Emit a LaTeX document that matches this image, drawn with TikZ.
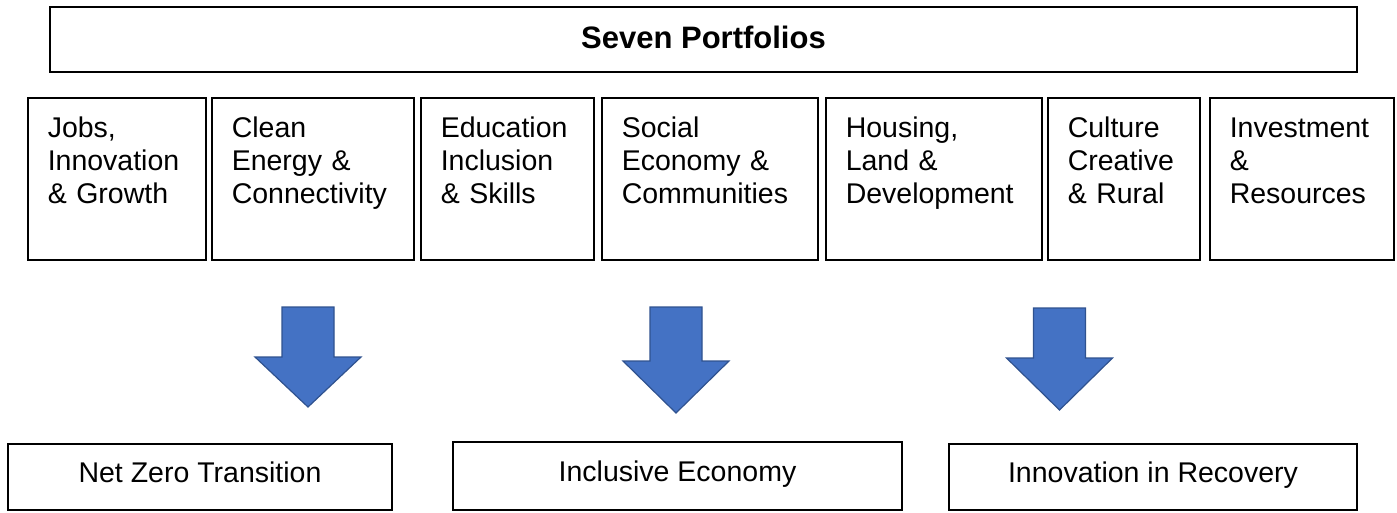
\documentclass[tikz,border=0pt]{standalone}
\usepackage{fontspec}
\setmainfont{Liberation Sans}
\usepackage{tikz}
\usetikzlibrary{positioning}

\definecolor{arrowblue}{HTML}{4472C4}
\definecolor{arrowedge}{HTML}{2F528F}

\tikzset{
    boxfont/.style={font=\fontsize{28.5}{33}\selectfont},
    titlebox/.style={draw, line width=1.5pt, font=\fontsize{31}{36}\selectfont\bfseries, text height=23pt, text depth=6pt},
    portfolio/.style={draw, line width=1.5pt, boxfont, anchor=north west, align=left,
        inner xsep=20pt, inner ysep=19pt, text height=21pt, text depth=103pt},
    goalbox/.style={draw, line width=1.5pt, boxfont, text height=21pt, text depth=11pt},
    bigarrow/.style={fill=arrowblue, draw=arrowedge, line width=1.2pt, line join=miter}
}

\begin{document}
\begin{tikzpicture}[x=1pt, y=-1pt]
        \useasboundingbox (0,0) rectangle (1397,512);

        % Nodes
        \node (title) [titlebox, minimum width=1307pt, minimum height=65pt] at (703.5,39.5) {Seven Portfolios};

        \node (jobs) [portfolio, text width=138pt] at (27,97) {Jobs,\\Innovation\\\& Growth};
        \node (energy) [portfolio, text width=162pt] at (211,97) {Clean\\Energy \&\\Connectivity};
        \node (education) [portfolio, text width=133pt] at (420,97) {Education\\Inclusion\\\& Skills};
        \node (social) [portfolio, text width=176pt] at (601,97) {Social\\Economy \&\\Communities};
        \node (housing) [portfolio, text width=176pt] at (825,97) {Housing,\\Land \&\\Development};
        \node (culture) [portfolio, text width=112pt] at (1047,97) {Culture\\Creative\\\& Rural};
        \node (investment) [portfolio, text width=144pt] at (1209,97) {Investment\\\&\\Resources};

        \node (netzero) [goalbox, minimum width=384pt, minimum height=66pt] at (200,477) {Net Zero Transition};
        \node (inclusive) [goalbox, minimum width=449pt, minimum height=68pt] at (677.5,476) {Inclusive Economy};
        \node (recovery) [goalbox, minimum width=408pt, minimum height=66pt] at (1153,477) {Innovation in Recovery};

        % Arrows
        \foreach \x/\top/\neck/\tip in {308/307/357/407, 676/307/361/413, 1059.5/308/358/410}
            \draw[bigarrow] (\x-26,\top) -- (\x+26,\top) -- (\x+26,\neck) -- (\x+53,\neck)
                -- (\x,\tip) -- (\x-53,\neck) -- (\x-26,\neck) -- cycle;
    \end{tikzpicture}
\end{document}
